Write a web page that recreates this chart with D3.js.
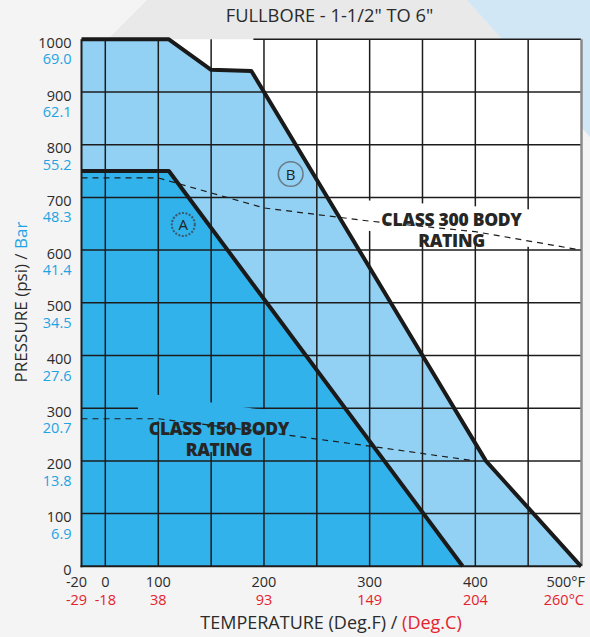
<!DOCTYPE html>
<html>
<head>
<meta charset="utf-8">
<script src="https://cdn.jsdelivr.net/npm/d3@7"></script>
<style>
  html, body { margin: 0; padding: 0; background: #f4f4f4; }
  svg { display: block; font-family: "Open Sans", "Noto Sans", sans-serif; }
</style>
</head>
<body>
<svg id="chart" width="590" height="637"></svg>
<script>
// ---------------- data ----------------
const titleText = 'FULLBORE - 1-1/2" TO 6"';
const psiTicks = [0, 100, 200, 300, 400, 500, 600, 700, 800, 900, 1000];
const barLabels = ["", "6.9", "13.8", "20.7", "27.6", "34.5", "41.4", "48.3", "55.2", "62.1", "69.0"];
const fTicks = [-20, 0, 100, 200, 300, 400, 500];
const fLabels = ["-20", "0", "100", "200", "300", "400", "500°F"];
const cLabels = ["-29", "-18", "38", "93", "149", "204", "260°C"];
const gridTemps = [0, 100, 150, 200, 250, 300, 350, 400, 450];
const gridPsi = [100, 200, 300, 400, 500, 600, 700, 800, 900];

// Seat rating B (light area)
const bTemps = [-20, 110, 150, 188, 350, 410, 500];
const bPsi   = [1000, 1000, 942, 940, 400, 200, 0];
// Seat rating A (dark area)
const aTemps = [-20, 110, 388];
const aPsi   = [750, 750, 0];
// Body ratings (dashed)
const c300Temps = [-20, 100, 200, 300, 400, 500];
const c300Psi   = [737, 737, 680, 655, 635, 600];
const c150Temps = [-20, 100, 200, 300, 400];
const c150Psi   = [280, 280, 255, 228, 200];

// ---------------- layout ----------------
const svg = d3.select("#chart");
const W = 590, H = 637;
const x = d3.scaleLinear().domain([-20, 0, 100, 500]).range([81.5, 105.3, 158.3, 581]);
const y = d3.scaleLinear().domain([0, 1000]).range([566.3, 39.3]);

const DARK = "#2b2b2b", BLUE_TXT = "#1ea3e3", RED_TXT = "#e5222e";

// background decoration
svg.append("rect").attr("width", W).attr("height", H).attr("fill", "#f4f4f4");
svg.append("polygon").attr("points", "147,0 467,0 540,80 81,80 81,66").attr("fill", "#e9e9e9");
svg.append("polygon").attr("points", "467,0 590,0 590,137").attr("fill", "#d2e7f6");

// plot background
svg.append("rect").attr("x", x(-20)).attr("y", y(1000)).attr("width", x(500) - x(-20)).attr("height", y(0) - y(1000)).attr("fill", "#ffffff");

const zipPts = (ts, ps) => ts.map((t, i) => [t, ps[i]]);
const line = d3.line().x(d => x(d[0])).y(d => y(d[1]));

const bPts = zipPts(bTemps, bPsi);
const aPts = zipPts(aTemps, aPsi);

// fills
svg.append("path").attr("d", line(bPts.concat([[-20, 0]])) + "Z").attr("fill", "#92d1f3");
svg.append("path").attr("d", line(aPts.concat([[-20, 0]])) + "Z").attr("fill", "#31b2ea");

// grid mask (gaps around body-rating labels)
const defs = svg.append("defs");
const mask = defs.append("mask").attr("id", "gridMask").attr("maskUnits", "userSpaceOnUse")
  .attr("x", 0).attr("y", 0).attr("width", W).attr("height", H);
mask.append("rect").attr("width", W).attr("height", H).attr("fill", "white");
mask.append("polygon").attr("points", "360,200 540,210 540,248 360,230").attr("fill", "black");
mask.append("polygon").attr("points", "138,392 253,408.6 276,409.6 276,434 215,452 190,452 158,421 138,421").attr("fill", "black");

const grid = svg.append("g").attr("mask", "url(#gridMask)");
grid.selectAll("line.v").data(gridTemps).join("line")
  .attr("x1", d => x(d)).attr("x2", d => x(d))
  .attr("y1", y(1000)).attr("y2", y(0))
  .attr("stroke", "#1c1c1c").attr("stroke-width", 1.5);
grid.selectAll("line.h").data(gridPsi).join("line")
  .attr("x1", x(-20)).attr("x2", x(500))
  .attr("y1", d => y(d)).attr("y2", d => y(d))
  .attr("stroke", "#1c1c1c").attr("stroke-width", 1.5);

// borders
svg.append("line").attr("x1", x(190)).attr("x2", x(500)).attr("y1", y(1000)).attr("y2", y(1000))
  .attr("stroke", "#1c1c1c").attr("stroke-width", 1.5);
svg.append("line").attr("x1", x(500) + 0.5).attr("x2", x(500) + 0.5).attr("y1", y(1000)).attr("y2", y(0))
  .attr("stroke", "#8a8a8a").attr("stroke-width", 2.5);
svg.append("line").attr("x1", x(-20)).attr("x2", x(-20)).attr("y1", y(1000)).attr("y2", y(0) + 1)
  .attr("stroke", "#1c1c1c").attr("stroke-width", 2);
svg.append("line").attr("x1", x(-20) - 1).attr("x2", x(500)).attr("y1", y(0)).attr("y2", y(0))
  .attr("stroke", "#1c1c1c").attr("stroke-width", 2);

// dashed body ratings
svg.append("path").attr("d", line(zipPts(c300Temps, c300Psi))).attr("fill", "none")
  .attr("stroke", "#1c1c1c").attr("stroke-width", 1.2).attr("stroke-dasharray", "6,5");
svg.append("path").attr("d", line(zipPts(c150Temps, c150Psi))).attr("fill", "none")
  .attr("stroke", "#1c1c1c").attr("stroke-width", 1.2).attr("stroke-dasharray", "6,5");

// thick seat rating lines
svg.append("path").attr("d", line(bPts)).attr("fill", "none")
  .attr("stroke", "#1a1a1a").attr("stroke-width", 4).attr("stroke-linejoin", "round");
svg.append("path").attr("d", line(aPts)).attr("fill", "none")
  .attr("stroke", "#1a1a1a").attr("stroke-width", 4).attr("stroke-linejoin", "round");

// body rating labels
const bodyLbl = (cx, cy, lines) => {
  lines.forEach((t, i) => {
    svg.append("text").attr("x", cx).attr("y", cy + i * 21)
      .attr("text-anchor", "middle").attr("font-weight", 800).attr("font-size", 17.5)
      .attr("letter-spacing", -0.3).attr("fill", "#262626").text(t);
  });
};
bodyLbl(451.5, 226, ["CLASS 300 BODY", "RATING"]);
bodyLbl(219, 435, ["CLASS 150 BODY", "RATING"]);

// A / B markers
svg.append("circle").attr("cx", 183.3).attr("cy", 224.5).attr("r", 11.5)
  .attr("fill", "none").attr("stroke", "#3a5a70").attr("stroke-width", 2).attr("stroke-dasharray", "2,1.5");
svg.append("text").attr("x", 183.3).attr("y", 230).attr("text-anchor", "middle")
  .attr("font-size", 15).attr("fill", "#222").text("A");
svg.append("circle").attr("cx", 290.7).attr("cy", 174).attr("r", 12.3)
  .attr("fill", "none").attr("stroke", "#6a7c89").attr("stroke-width", 1.6);
svg.append("text").attr("x", 290.7).attr("y", 179.5).attr("text-anchor", "middle")
  .attr("font-size", 15).attr("fill", "#222").text("B");

// y axis labels (psi via d3 axis, bar below)
const yAxis = d3.axisLeft(y).tickValues(psiTicks).tickSize(0).tickPadding(0).tickFormat(d3.format("d"));
const yg = svg.append("g").attr("transform", "translate(71.5,0)").call(yAxis);
yg.select(".domain").remove();
yg.selectAll("text").attr("dy", 8).attr("font-size", 14.5)
  .attr("font-family", "'Open Sans', 'Noto Sans', sans-serif").attr("fill", DARK)
  .attr("dominant-baseline", "auto").attr("text-anchor", "end");
svg.selectAll("text.bar").data(psiTicks).join("text").attr("class", "bar")
  .attr("x", 71.5).attr("y", d => y(d) + 25).attr("text-anchor", "end")
  .attr("font-size", 14.5).attr("fill", BLUE_TXT)
  .text((d, i) => barLabels[i]);

// x axis labels
svg.selectAll("text.f").data(fTicks).join("text").attr("class", "f")
  .attr("x", (d, i) => i === fTicks.length - 1 ? 585 : x(d) - (i === 0 ? 5 : 0))
  .attr("y", 587).attr("text-anchor", (d, i) => i === fTicks.length - 1 ? "end" : "middle")
  .attr("font-size", 14.5).attr("fill", DARK).text((d, i) => fLabels[i]);
svg.selectAll("text.c").data(fTicks).join("text").attr("class", "c")
  .attr("x", (d, i) => i === fTicks.length - 1 ? 584 : x(d) - (i === 0 ? 5 : 0))
  .attr("y", 604.5).attr("text-anchor", (d, i) => i === fTicks.length - 1 ? "end" : "middle")
  .attr("font-size", 14.5).attr("fill", RED_TXT).text((d, i) => cLabels[i]);

// axis titles
const xt = svg.append("text").attr("x", 331).attr("y", 628.5).attr("text-anchor", "middle")
  .attr("font-size", 18).attr("fill", DARK);
xt.append("tspan").text("TEMPERATURE (Deg.F) / ");
xt.append("tspan").attr("fill", RED_TXT).text("(Deg.C)");

const yt = svg.append("text").attr("transform", "translate(27,302) rotate(-90)").attr("text-anchor", "middle")
  .attr("font-size", 17).attr("fill", DARK);
yt.append("tspan").text("PRESSURE (psi) / ");
yt.append("tspan").attr("fill", BLUE_TXT).text("Bar");

// title
svg.append("text").attr("x", 329.5).attr("y", 21.5).attr("text-anchor", "middle")
  .attr("font-size", 18.3).attr("fill", DARK).text(titleText);
</script>
</body>
</html>
